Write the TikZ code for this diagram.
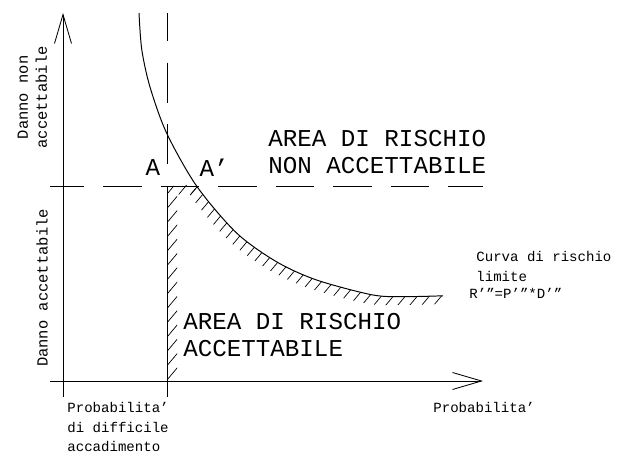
\documentclass[tikz,border=0pt]{standalone}
\usepackage{fontspec}
\setmainfont{Liberation Mono}
\usetikzlibrary{arrows.meta}

\begin{document}
\begin{tikzpicture}[
  line width=0.6pt,
  asse/.style={-{Straight Barb[length=7.25mm, width=4.25mm]}},
  tratteggio/.style={dash pattern=on 9.625mm off 4.75mm, dash phase=1.125mm},
  trattino/.style={line width=0.5pt},
  grande/.style={font=\fontsize{17.2}{19}\selectfont, align=left, inner sep=0pt},
  piccolo/.style={font=\fontsize{10}{14}\selectfont, align=left, inner sep=0pt},
  verticale/.style={font=\fontsize{11}{13.5}\selectfont, align=center,
                    rotate=90, inner sep=0pt}
]
\useasboundingbox (-1.575,-1.9) rectangle (14.15,9.525);

%--------------------------------------------------------------
% Punti di riferimento
%--------------------------------------------------------------
\coordinate (ypiede) at (0,-0.4);
\coordinate (ycima)  at (0,9.2);
\coordinate (xpiede) at (-0.325,0);
\coordinate (xcima)  at (10.5,0);
\coordinate (Pbase)  at (2.6,-0.4);
\coordinate (Pangolo) at (2.6,4.875);
\coordinate (Pcima)  at (2.6,9.2);
\coordinate (Dinizio) at (-0.325,4.875);
\coordinate (Dfine)  at (10.5,4.875);
\coordinate (Aprimo) at (3.34,4.875);

%--------------------------------------------------------------
% Tratteggio dell'area accettabile (lungo i bordi)
%--------------------------------------------------------------
\begin{scope}
  \clip (2.6,0) rectangle (2.85,4.875) (2.6,4.665) rectangle (3.34,4.875);
  \foreach \k in {-14,...,19}
    \draw[trattino] ({2.579+0.3*\k},0) -- ++(50:7);
\end{scope}
\begin{scope}
  \clip (2.6,0) rectangle (10,4.875);
  \clip plot[smooth] coordinates {(1.90,9.20) (1.97,8.28) (2.175,7.35)
      (2.59,6.20) (3.34,4.875) (4.34,3.70) (5.34,2.98) (6.34,2.525)
      (7.75,2.15) (8.59,2.11) (9.50,2.13)}
    -- plot[smooth] coordinates {(9.323,1.92) (8.413,1.90) (7.573,1.94)
      (6.163,2.315) (5.163,2.77) (4.163,3.49) (3.163,4.665) (2.413,5.99)
      (1.998,7.14) (1.793,8.07) (1.723,8.99)} -- cycle;
  \foreach \k in {-14,...,19}
    \draw[trattino] ({2.579+0.3*\k},0) -- ++(50:7);
\end{scope}

%--------------------------------------------------------------
% Limiti di danno e di probabilita'
%--------------------------------------------------------------
\draw (Pbase) -- (Pangolo) -- (Aprimo);
\draw[tratteggio] (Dinizio) -- (Dfine);
\draw[dash pattern=on 10mm off 5.4mm, dash phase=3mm] (Pcima) -- (Pangolo);

%--------------------------------------------------------------
% Curva di rischio limite
%--------------------------------------------------------------
\draw[line width=0.7pt] plot[smooth] coordinates {(1.90,9.20) (1.97,8.28)
    (2.175,7.35) (2.59,6.20) (3.34,4.875) (4.34,3.70) (5.34,2.98)
    (6.34,2.525) (7.75,2.15) (8.59,2.11) (9.50,2.13)};

%--------------------------------------------------------------
% Assi
%--------------------------------------------------------------
\draw[asse] (ypiede) -- (ycima);
\draw[asse] (xpiede) -- (xcima);

%--------------------------------------------------------------
% Testi
%--------------------------------------------------------------
\node[grande] (lblA)  at (2.25,5.325) {A};
\node[grande] (lblAp) at (3.78,5.325) {A'};
\node[grande, anchor=west] (nonaccett) at (5.125,5.725)
  {AREA DI RISCHIO\\NON ACCETTABILE};
\node[grande, anchor=west] (accett) at (3.0,1.15)
  {AREA DI RISCHIO\\ACCETTABILE};

\node[verticale] (dannoNon) at (-0.765,7.09) {Danno non\\accettabile};
\node[verticale] (dannoAcc) at (-0.525,2.325) {Danno accettabile};

\node[piccolo, anchor=north west] (probDiff) at (0.1,-0.525)
  {Probabilita'\\di difficile\\accadimento};
\node[piccolo, anchor=north west] (prob) at (9.25,-0.525) {Probabilita'};
\node[piccolo, anchor=north west] (curva) at (10.325,3.25)
  {Curva di rischio\\limite};
\node[piccolo, anchor=north west] (formula) at (10.15,2.325) {R'"=P'"*D'"};

\end{tikzpicture}
\end{document}
